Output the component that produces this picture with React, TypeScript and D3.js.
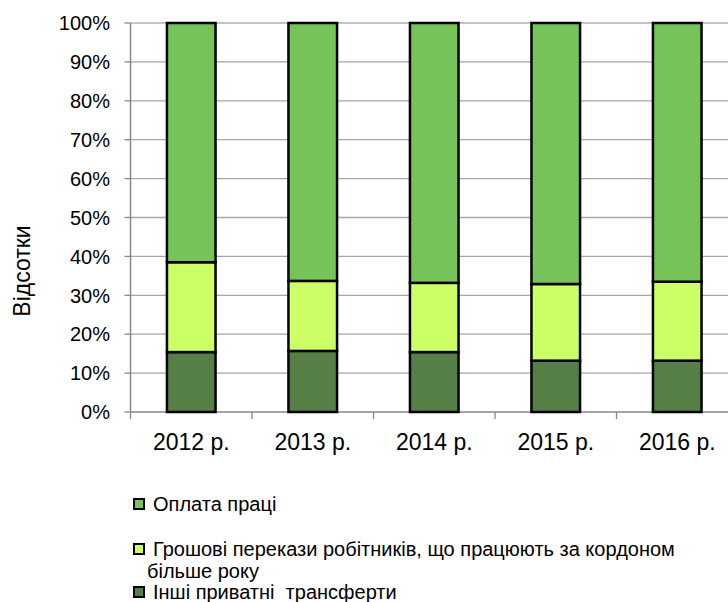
import * as d3 from "d3";
import { FC } from "react";

const CATEGORIES: string[] = ["2012 р.", "2013 р.", "2014 р.", "2015 р.", "2016 р."];
const OTHER: number[] = [15.4, 15.7, 15.4, 13.2, 13.2];
const REMITTANCES: number[] = [23.1, 18.0, 17.8, 19.7, 20.3];
const WAGES: number[] = [61.5, 66.3, 66.8, 67.1, 66.5];
const TICKS: number[] = [0, 0.1, 0.2, 0.3, 0.4, 0.5, 0.6, 0.7, 0.8, 0.9, 1];

const SERIES = [
  { key: "other", name: "Інші приватні  трансферти", color: "#557f46", values: OTHER },
  { key: "remit", name: "Грошові перекази робітників, що працюють за кордоном", color: "#ccff66", values: REMITTANCES },
  { key: "wages", name: "Оплата праці", color: "#76c35a", values: WAGES },
];

const W = 728;
const H = 602;
const FONT = "'Liberation Sans', Arial, sans-serif";

const App: FC = () => {
  const left = 130.5;
  const top = 23;
  const bottom = 412;
  const band = 121.5;

  const x = d3
    .scaleBand<string>()
    .domain(CATEGORIES)
    .range([left, left + band * CATEGORIES.length])
    .paddingInner(0.6)
    .paddingOuter(0.3);
  const y = d3.scaleLinear().domain([0, 1]).range([bottom, top]);

  const rows = CATEGORIES.map((c, i) => {
    const r: Record<string, number | string> = { cat: c };
    SERIES.forEach((s) => (r[s.key] = s.values[i]));
    return r;
  });
  const stacked = d3
    .stack<Record<string, number | string>>()
    .keys(SERIES.map((s) => s.key))
    .value((d, k) => d[k] as number)
    .offset(d3.stackOffsetExpand)(rows);

  const fmt = d3.format(".0%");
  const legend = [
    { s: SERIES[2], y: 504, lines: [SERIES[2].name] },
    { s: SERIES[1], y: 549, lines: [SERIES[1].name, "більше року"] },
    { s: SERIES[0], y: 592, lines: [SERIES[0].name] },
  ];

  return (
    <svg
      width={W}
      height={H}
      style={{ position: "absolute", left: 0, top: 0, background: "#fff" }}
      fontFamily={FONT}
    >
      {/* grid */}
      {TICKS.map((t) => (
        <g key={t}>
          {t > 0 && (
            <line
              x1={left}
              x2={W}
              y1={y(t)}
              y2={y(t)}
              stroke={t === 1 ? "#c4c4c4" : "#a6a6a6"}
              strokeWidth={t === 1 ? 2 : 1.3}
            />
          )}
          <line x1={left - 6} x2={left} y1={y(t)} y2={y(t)} stroke="#888" strokeWidth={1.3} />
          <text
            x={110}
            y={y(t)}
            dy="0.36em"
            textAnchor="end"
            fontSize={20}
            fill="#000"
          >
            {fmt(t)}
          </text>
        </g>
      ))}
      <line x1={left} x2={left} y1={top} y2={bottom} stroke="#888" strokeWidth={1.5} />
      <line x1={left} x2={W} y1={bottom} y2={bottom} stroke="#888" strokeWidth={1.5} />
      {d3.range(CATEGORIES.length + 1).map((i) => (
        <line
          key={i}
          x1={left + i * band}
          x2={left + i * band}
          y1={bottom}
          y2={bottom + 7}
          stroke="#888"
          strokeWidth={1.3}
        />
      ))}

      {/* bars */}
      {stacked.map((layer, li) => (
        <g key={layer.key} fill={SERIES[li].color} stroke="#000" strokeWidth={2.5}>
          {layer.map((d, i) => (
            <rect
              key={i}
              x={x(CATEGORIES[i])}
              width={x.bandwidth()}
              y={y(d[1])}
              height={y(d[0]) - y(d[1])}
            />
          ))}
        </g>
      ))}

      {/* x labels */}
      {CATEGORIES.map((c) => (
        <text
          key={c}
          x={(x(c) ?? 0) + x.bandwidth() / 2}
          y={442}
          dy="0.36em"
          textAnchor="middle"
          fontSize={23}
        >
          {c}
        </text>
      ))}

      {/* y title */}
      <text
        transform="translate(22,271) rotate(-90)"
        textAnchor="middle"
        dy="0.36em"
        fontSize={23}
      >
        Відсотки
      </text>

      {/* legend */}
      {legend.map((l) => (
        <g key={l.s.key}>
          <rect x={134} y={l.y - 5} width={10} height={10} fill={l.s.color} stroke="#000" strokeWidth={2} />
          {l.lines.map((ln, j) => (
            <text
              key={j}
              x={j === 0 ? 153 : 147}
              y={l.y + j * 22}
              dy="0.36em"
              fontSize={20}
              style={{ whiteSpace: "pre" }}
            >
              {ln}
            </text>
          ))}
        </g>
      ))}
    </svg>
  );
};

export default App;
